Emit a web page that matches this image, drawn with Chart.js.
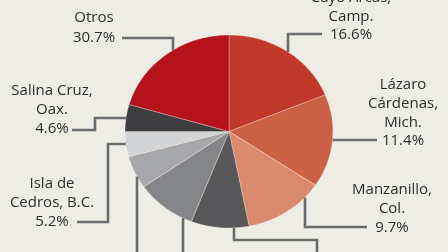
<!DOCTYPE html>
<html><head><meta charset="utf-8">
<script src="https://cdn.jsdelivr.net/npm/chart.js@4/dist/chart.umd.min.js"></script>
<style>html,body{margin:0;padding:0;background:#eeede5;}canvas{display:block;}</style>
</head><body>
<canvas id="c" width="448" height="252"></canvas>
<script>
// Slices clockwise from 12 o'clock
const categories = ["Cayo Arcas, Camp.", "Lázaro Cárdenas, Mich.", "Manzanillo, Col.", "", "", "", "Isla de Cedros, B.C.", "Salina Cruz, Oax.", "Otros"];
// slice sizes as drawn in the picture (the artwork is not to scale with its printed labels)
const sliceShares = [18.8, 15.6, 12.5, 9.0, 9.4, 5.5, 4.2, 4.5, 20.5];
// percentages printed next to the slices
const printedShares = ["16.6%", "11.4%", "9.7%", "", "", "", "5.2%", "4.6%", "30.7%"];
const labelLines = [["Cayo Arcas,", "Camp."], ["Lázaro", "Cárdenas,", "Mich."], ["Manzanillo,", "Col."], [], [], [], ["Isla de", "Cedros, B.C."], ["Salina Cruz,", "Oax."], ["Otros"]];
const sliceColors = ["#c0392a", "#cc6044", "#da8a6c", "#58585b", "#848588", "#a6a7aa", "#d4d5d7", "#3e3e40", "#b5121a"];

// label layout: text centre x, first line centre y, line step, leader polyline, pie anchor
const layout = [
  {tx: 351, ty: -2, step: 18.5, path: [[322,34],[288,34]], end: {x: 288, s: -1}},
  {tx: 403, ty: 85, step: 18.7, path: [[377,140]], end: {y: 140, s: 1}},
  {tx: 392, ty: 190, step: 19, path: [[367,227],[305,227]], end: {x: 305, s: 1}},
  {path: [[317,260],[317,240],[234,240]], end: {x: 234, s: 1}},
  {path: [[183,260]], end: {x: 183, s: 1}},
  {path: [[137,260]], end: {x: 137, s: 1}},
  {tx: 52, ty: 184, step: 19, path: [[77,222],[108,222],[108,144]], end: {y: 144, s: -1}},
  {tx: 52, ty: 91, step: 19, path: [[72,130],[95,130],[95,118]], end: {y: 118, s: -1}},
  {tx: 94, ty: 18, step: 20, path: [[122,38],[173,38]], end: {x: 173, s: -1}}
];
const stretchX = 1.078;

const ellipsePlugin = {
  id: 'ellipse',
  beforeDatasetsDraw(chart) {
    const a = chart.getDatasetMeta(0).data[0];
    const ctx = chart.ctx;
    ctx.save();
    ctx.translate(a.x, 0); ctx.scale(stretchX, 1); ctx.translate(-a.x, 0);
  },
  afterDatasetsDraw(chart) { chart.ctx.restore(); }
};

const labelPlugin = {
  id: 'labels',
  afterDraw(chart) {
    const ctx = chart.ctx;
    const a = chart.getDatasetMeta(0).data[0];
    const cx = a.x, cy = a.y, ry = a.outerRadius, rx = ry * stretchX;
    ctx.save();
    ctx.strokeStyle = '#6c6c6c';
    ctx.lineWidth = 2.6;
    ctx.lineJoin = 'miter';
    layout.forEach((L, i) => {
      let p;
      if (L.end.x !== undefined) {
        const dx = (L.end.x - cx) / rx;
        p = [L.end.x, cy + L.end.s * ry * Math.sqrt(Math.max(0, 1 - dx * dx))];
      } else {
        const dy = (L.end.y - cy) / ry;
        p = [cx + L.end.s * rx * Math.sqrt(Math.max(0, 1 - dy * dy)), L.end.y];
      }
      ctx.beginPath();
      ctx.moveTo(L.path[0][0], L.path[0][1]);
      for (let k = 1; k < L.path.length; k++) ctx.lineTo(L.path[k][0], L.path[k][1]);
      ctx.lineTo(p[0], p[1]);
      ctx.stroke();
      const lines = labelLines[i].concat(printedShares[i] ? [printedShares[i]] : []);
      if (L.tx !== undefined) {
        ctx.fillStyle = '#2e2e2e';
        ctx.font = '15px "Open Sans"';
        ctx.textAlign = 'center';
        ctx.textBaseline = 'middle';
        lines.forEach((t, j) => ctx.fillText(t, L.tx, L.ty + j * L.step));
      }
    });
    ctx.restore();
  }
};

new Chart(document.getElementById('c'), {
  type: 'pie',
  data: {
    labels: categories,
    datasets: [{
      data: sliceShares,
      backgroundColor: sliceColors,
      borderColor: 'rgba(250,232,222,0.3)',
      borderWidth: 1,
      hoverOffset: 0
    }]
  },
  options: {
    responsive: false,
    animation: false,
    layout: {padding: {left: 129, right: 119, top: 34.5, bottom: 23.5}},
    plugins: {legend: {display: false}, tooltip: {enabled: false}}
  },
  plugins: [ellipsePlugin, labelPlugin]
});
</script>
</body></html>
